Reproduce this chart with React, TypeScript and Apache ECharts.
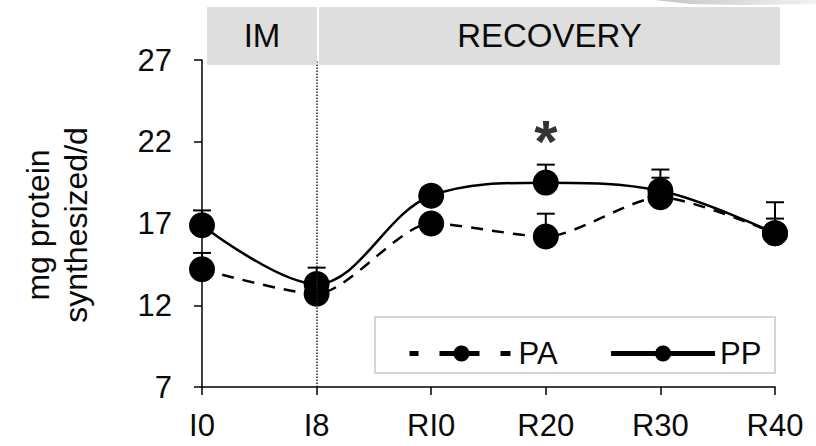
import React, { useEffect, useRef } from "react";
import * as echarts from "echarts";

const xLabels = ["I0", "I8", "RI0", "R20", "R30", "R40"];
const ppValues = [16.9, 13.3, 18.7, 19.5, 19.0, 16.4];
const ppUpper = [17.8, 14.3, 19.2, 20.6, 20.3, 18.3];
const paValues = [14.2, 12.7, 17.0, 16.2, 18.6, 16.4];
const paUpper = [15.2, 13.1, 17.5, 17.6, 19.8, 17.3];
const yTicks = { min: 7, max: 27, interval: 5 };
const phases = [
  { name: "IM", x0: 207, x1: 317 },
  { name: "RECOVERY", x0: 319, x1: 780 },
];
const starPoint = [3, 22.0];
const FONT = "'Liberation Sans', Arial, sans-serif";
const INK = "#0a0a0a";

export default function App() {
  const ref = useRef<HTMLDivElement>(null);
  useEffect(() => {
    if (!ref.current) return;
    const chart = echarts.init(ref.current, null, { renderer: "svg" });
    const errRender = (params: any, api: any) => {
      const x = api.value(0);
      const v = api.value(1);
      const u = api.value(2);
      const p0 = api.coord([x, v]);
      const p1 = api.coord([x, u]);
      const st = { stroke: "#000", lineWidth: 2 };
      return {
        type: "group",
        children: [
          { type: "line", shape: { x1: p0[0], y1: p0[1], x2: p1[0], y2: p1[1] }, style: st },
          { type: "line", shape: { x1: p1[0] - 9, y1: p1[1], x2: p1[0] + 9, y2: p1[1] }, style: st },
        ],
      };
    };
    const graphics: any[] = [];
    phases.forEach((p) => {
      graphics.push({
        type: "rect",
        z: 100,
        shape: { x: p.x0, y: 7, width: p.x1 - p.x0, height: 58 },
        style: { fill: "#dedede" },
      });
      graphics.push({
        type: "text",
        z: 101,
        x: (p.x0 + p.x1) / 2,
        y: 35,
        style: {
          text: p.name,
          fontSize: 33,
          fontFamily: FONT,
          fill: INK,
          textAlign: "center",
          textVerticalAlign: "middle",
        },
      });
    });
    graphics.push({
      type: "text",
      z: 101,
      x: 57,
      y: 225,
      rotation: Math.PI / 2,
      style: {
        text: "mg protein\nsynthesized/d",
        fontSize: 32,
        lineHeight: 38,
        fontFamily: FONT,
        fill: INK,
        textAlign: "center",
        textVerticalAlign: "middle",
      },
    });
    graphics.push({
      type: "rect",
      z: 0,
      shape: { x: 375, y: 317, width: 400, height: 56 },
      style: { fill: "none", stroke: "#c8c8c8", lineWidth: 1.5 },
    });
    graphics.push({
      type: "polygon",
      z: 100,
      shape: { points: [[655, 0], [816, 0], [816, 4], [740, 5], [690, 4]] },
      style: {
        fill: new echarts.graphic.LinearGradient(0, 0, 1, 0, [
          { offset: 0, color: "#c4c4c4" },
          { offset: 1, color: "#f2f2f2" },
        ]),
      },
    });

    chart.setOption({
      animation: false,
      textStyle: { fontFamily: FONT },
      grid: { left: 202, right: 41, top: 60, bottom: 59, containLabel: false },
      xAxis: {
        type: "value",
        min: 0,
        max: 5,
        interval: 1,
        splitLine: { show: false },
        axisLine: { lineStyle: { color: "#000", width: 1.5 } },
        axisTick: { length: 8, lineStyle: { color: "#000", width: 1.5 } },
        axisLabel: {
          margin: 23,
          fontSize: 31,
          color: INK,
          fontFamily: FONT,
          formatter: (v: number) => xLabels[v] ?? "",
        },
      },
      yAxis: {
        type: "value",
        min: yTicks.min,
        max: yTicks.max,
        interval: yTicks.interval,
        splitLine: { show: false },
        axisLine: { show: true, lineStyle: { color: "#000", width: 1.5 } },
        axisTick: { show: true, length: 8, lineStyle: { color: "#000", width: 1.5 } },
        axisLabel: { margin: 30, fontSize: 31, color: INK, fontFamily: FONT },
      },
      legend: {
        left: 402,
        top: 333,
        itemWidth: 104,
        itemHeight: 20,
        itemGap: 51,
        textStyle: { fontSize: 31, color: INK, fontFamily: FONT },
        data: [
          { name: "PA", lineStyle: { type: [9, 21, 40, 21, 10], width: 5 } },
          { name: "PP", lineStyle: { width: 5 } },
        ],
      },
      graphic: graphics,
      series: [
        {
          type: "custom",
          name: "PAerr",
          z: 1,
          renderItem: errRender,
          data: paValues.map((v, i) => [i, v, paUpper[i]]),
        },
        {
          type: "custom",
          name: "PPerr",
          z: 1,
          renderItem: errRender,
          data: ppValues.map((v, i) => [i, v, ppUpper[i]]),
        },
        {
          type: "line",
          name: "PA",
          z: 3,
          smooth: 0.25,
          symbol: "circle",
          symbolSize: 26,
          itemStyle: { color: "#000" },
          lineStyle: { color: "#000", width: 2.5, type: [12, 9] },
          data: paValues.map((v, i) => [i, v]),
        },
        {
          type: "line",
          name: "PP",
          z: 3,
          smooth: 0.35,
          symbol: "circle",
          symbolSize: 26,
          itemStyle: { color: "#000" },
          lineStyle: { color: "#000", width: 2.5 },
          data: ppValues.map((v, i) => [i, v]),
          markLine: {
            silent: true,
            symbol: "none",
            label: { show: false },
            lineStyle: { type: "dotted", color: "#222", width: 1.5 },
            data: [{ xAxis: 1 }],
          },
        },
        {
          type: "scatter",
          name: "sig",
          symbolSize: 1,
          itemStyle: { color: "rgba(0,0,0,0)" },
          label: {
            show: true,
            position: "inside",
            formatter: "*",
            fontSize: 60,
            fontWeight: "bold",
            color: "#000",
            fontFamily: FONT,
          },
          data: [starPoint],
        },
      ],
    });
    return () => chart.dispose();
  }, []);
  return (
    <div
      ref={ref}
      style={{ position: "absolute", left: 0, top: 0, width: 816, height: 446 }}
    />
  );
}
